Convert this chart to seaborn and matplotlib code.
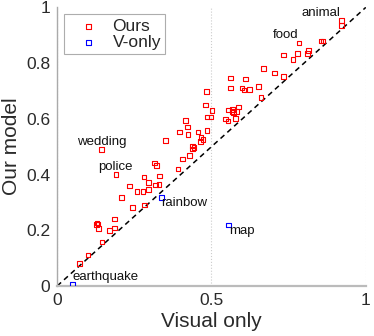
import numpy as np
import pandas as pd
import matplotlib
matplotlib.use('Agg')
import matplotlib.pyplot as plt
import seaborn as sns

# Datos: precision por concepto (visual only vs nuestro modelo)
ours_visual = [0.073, 0.100, 0.145, 0.134, 0.169, 0.185, 0.129, 0.132, 0.127, 0.186,
               0.244, 0.282, 0.208, 0.258, 0.278, 0.295, 0.235, 0.295, 0.318, 0.330,
               0.190, 0.281, 0.331, 0.315, 0.322, 0.143, 0.392, 0.407, 0.428, 0.438,
               0.443, 0.439, 0.350, 0.466, 0.472, 0.464, 0.397, 0.424, 0.456, 0.416,
               0.422, 0.486, 0.486, 0.499, 0.480, 0.502, 0.484, 0.545, 0.553, 0.577,
               0.556, 0.569, 0.566, 0.571, 0.582, 0.588, 0.562, 0.611, 0.562, 0.599,
               0.605, 0.623, 0.652, 0.661, 0.669, 0.705, 0.733, 0.733, 0.764, 0.778,
               0.783, 0.811, 0.815, 0.855, 0.862, 0.922, 0.922]
ours_model = [0.080, 0.111, 0.158, 0.206, 0.198, 0.208, 0.226, 0.223, 0.220, 0.241,
              0.282, 0.290, 0.318, 0.338, 0.340, 0.346, 0.359, 0.372, 0.363, 0.364,
              0.400, 0.391, 0.394, 0.441, 0.432, 0.490, 0.420, 0.456, 0.469, 0.503,
              0.497, 0.491, 0.522, 0.533, 0.526, 0.519, 0.552, 0.544, 0.552, 0.594,
              0.571, 0.558, 0.606, 0.606, 0.649, 0.630, 0.697, 0.599, 0.592, 0.601,
              0.631, 0.634, 0.626, 0.622, 0.627, 0.642, 0.746, 0.743, 0.711, 0.710,
              0.703, 0.706, 0.716, 0.676, 0.781, 0.765, 0.751, 0.829, 0.813, 0.835,
              0.872, 0.835, 0.845, 0.880, 0.880, 0.953, 0.936]

vonly_visual = [0.049, 0.337, 0.556]
vonly_model = [0.005, 0.317, 0.219]

# Etiquetas de conceptos y posicion del texto (x, y en datos)
etiquetas = ["animal", "food", "wedding", "police", "rainbow", "map", "earthquake"]
etiquetas_x = [0.793, 0.699, 0.064, 0.132, 0.336, 0.557, 0.051]
etiquetas_y = [0.980, 0.901, 0.517, 0.427, 0.298, 0.197, 0.032]

df_ours = pd.DataFrame({'Visual': ours_visual, 'Modelo': ours_model})
df_v = pd.DataFrame({'Visual': vonly_visual, 'Modelo': vonly_model})

sns.set_style('white')
plt.rcParams['font.family'] = ['Liberation Sans', 'DejaVu Sans']

fig = plt.figure(figsize=(3.74, 3.36), dpi=100)
ax = fig.add_axes([0.153, 0.149, 0.825, 0.829])

ax.axline((0, 0), slope=1, color='black', lw=1.1, dashes=(3.4, 2.6), zorder=1)

sns.scatterplot(data=df_ours, x='Visual', y='Modelo', marker='s', s=11,
                color='red', facecolor='none', edgecolor='red', linewidth=0.8,
                label='Ours', ax=ax, zorder=3)
sns.scatterplot(data=df_v, x='Visual', y='Modelo', marker='s', s=11,
                color='blue', facecolor='none', edgecolor='blue', linewidth=0.8,
                label='V-only', ax=ax, zorder=3)

for t, tx, ty in zip(etiquetas, etiquetas_x, etiquetas_y):
    ax.text(tx, ty, t, fontsize=9.5, ha='left', va='center', color='#111111')

ax.set_xlim(0, 1)
ax.set_ylim(0, 1)
ax.set_xticks([0, 0.5, 1])
ax.set_xticklabels(['0', '0.5', '1'])
ax.set_yticks([0, 0.2, 0.4, 0.6, 0.8, 1])
ax.set_yticklabels(['0', '0.2', '0.4', '0.6', '0.8', '1'])
ax.tick_params(direction='in', length=2.5, width=0.8, color='#999999',
               labelsize=12.5, labelcolor='#2a2a2a', pad=5)
ax.xaxis.grid(True, linestyle=':', color='#cccccc', lw=0.8)
ax.yaxis.grid(False)

for s in ['top', 'right']:
    ax.spines[s].set_visible(False)
ax.spines['left'].set_color('#aaaaaa')
ax.spines['left'].set_linewidth(1.0)
ax.spines['bottom'].set_color('#bbbbbb')
ax.spines['bottom'].set_linewidth(1.6)

ax.set_xlabel('Visual only', fontsize=15, color='#2a2a2a', labelpad=3)
ax.set_ylabel('Our model', fontsize=15, color='#2a2a2a', labelpad=4)

leg = ax.legend(loc='upper left', bbox_to_anchor=(0.022, 0.975), fontsize=12.5,
                frameon=True, fancybox=False, borderpad=0.25, handletextpad=0.25,
                labelspacing=0.05, handlelength=2.3, borderaxespad=0)
leg.get_frame().set_edgecolor('#999999')
leg.get_frame().set_linewidth(0.8)

fig.savefig('out.png', dpi=100)
